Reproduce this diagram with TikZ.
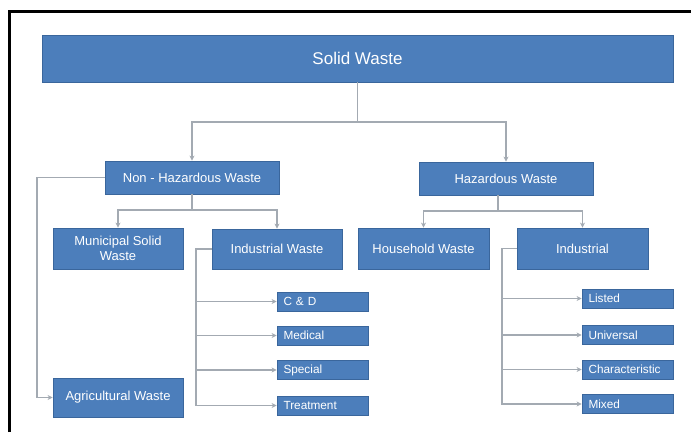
\documentclass[tikz,border=0pt]{standalone}
\usepackage{fontspec}
\setmainfont{Liberation Sans}
\usetikzlibrary{arrows.meta}
\definecolor{boxfill}{HTML}{4C7EBB}
\definecolor{boxline}{HTML}{3A669C}
\definecolor{conn}{HTML}{A3AAB2}
\tikzset{
  box/.style={draw=boxline, line width=0.8pt, fill=boxfill, text=white, inner sep=0pt, align=center},
  bigbox/.style={box, font=\fontsize{17}{20}\selectfont},
  midbox/.style={box, font=\fontsize{13}{15.5}\selectfont},
  smallbox/.style={box, font=\fontsize{11.8}{13}\selectfont, minimum width=91, minimum height=19, text width=78, align=left},
  arr/.style={draw=conn, line width=1.3pt, -{Stealth[length=5pt,width=5pt]}},
  ln/.style={draw=conn, line width=1.3pt}
}
\begin{document}
\begin{tikzpicture}[x=1pt,y=-1pt]
\useasboundingbox (0,0) rectangle (691,432);
\fill[white] (0,0) rectangle (691,432);
\draw[line width=2.7pt] (9.7,432) -- (9.7,11.3) -- (691,11.3);

\node[bigbox, minimum width=631, minimum height=47] (solid) at (357.5,58.5) {Solid Waste};

\node[midbox, minimum width=174, minimum height=33] (nonhaz) at (192,177.5) {Non - Hazardous Waste};
\node[midbox, minimum width=174, minimum height=33] (haz) at (506,178.5) {Hazardous Waste};

\node[midbox, minimum width=130, minimum height=41] (muni) at (118,248.5) {Municipal Solid\\Waste};
\node[midbox, minimum width=130, minimum height=40] (indw) at (277,249) {Industrial Waste};
\node[midbox, minimum width=131, minimum height=41] (house) at (423.5,248.5) {Household Waste};
\node[midbox, minimum width=131, minimum height=41] (ind) at (582.5,248.5) {Industrial};
\node[midbox, minimum width=130, minimum height=39] (agri) at (118,397.5) {Agricultural Waste};

\node[smallbox] (cd) at (322.5,301.5) {C \& D};
\node[smallbox] (med) at (322.5,335.5) {Medical};
\node[smallbox] (spec) at (322.5,370) {Special};
\node[smallbox] (treat) at (322.5,405.5) {Treatment};

\node[smallbox] (listed) at (627.5,298.5) {Listed};
\node[smallbox] (univ) at (627.5,335) {Universal};
\node[smallbox] (charac) at (627.5,369.5) {Characteristic};
\node[smallbox] (mixed) at (627.5,404) {Mixed};

\coordinate (busA) at (0,122);
\coordinate (busB) at (0,210);
\coordinate (busC) at (0,211);
\coordinate (lx) at (37,0);
\coordinate (lx2) at (196,0);
\coordinate (lx3) at (502,0);
\coordinate (hstem) at (498,195);

\draw[arr] (solid.south) -- (solid.south |- busA) -| (nonhaz.north);
\draw[arr] (solid.south) -- (solid.south |- busA) -| (haz.north);

\draw[arr] (nonhaz.south) -- (nonhaz.south |- busB) -| (muni.north);
\draw[arr] (nonhaz.south) -- (nonhaz.south |- busB) -| (indw.north);

\draw[arr] (hstem) -- (hstem |- busC) -| (house.north);
\draw[arr] (hstem) -- (hstem |- busC) -| (ind.north);

\draw[arr] (nonhaz.west) -- (nonhaz.west -| lx) |- (agri.west);

\draw[arr] (indw.west) -- (indw.west -| lx2) |- (cd.west);
\draw[arr] (indw.west) -- (indw.west -| lx2) |- (med.west);
\draw[arr] (indw.west) -- (indw.west -| lx2) |- (spec.west);
\draw[arr] (indw.west) -- (indw.west -| lx2) |- (treat.west);

\draw[arr] (ind.west) -- (ind.west -| lx3) |- (listed.west);
\draw[arr] (ind.west) -- (ind.west -| lx3) |- (univ.west);
\draw[arr] (ind.west) -- (ind.west -| lx3) |- (charac.west);
\draw[arr] (ind.west) -- (ind.west -| lx3) |- (mixed.west);
\end{tikzpicture}
\end{document}
